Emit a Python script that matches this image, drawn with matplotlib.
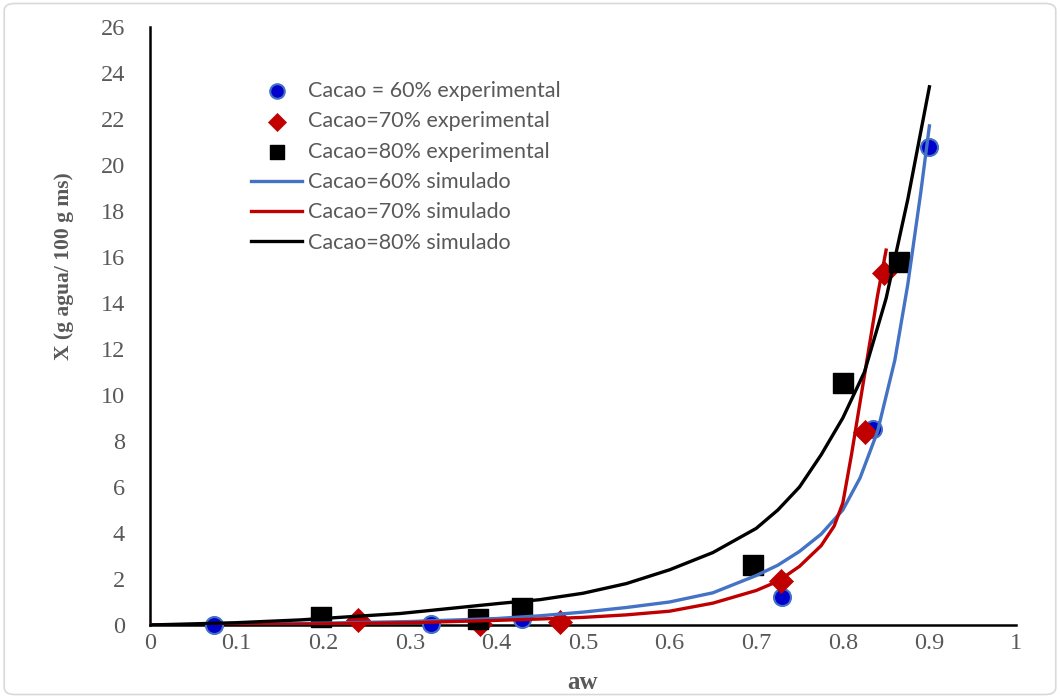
import matplotlib
matplotlib.use("Agg")
import matplotlib.pyplot as plt
from matplotlib.patches import FancyBboxPatch

# datos experimentales (aw, X)
aw_60 = [0.074, 0.325, 0.43, 0.73, 0.835, 0.90]
x_60 = [0.0, 0.05, 0.25, 1.2, 8.5, 20.8]
aw_70 = [0.24, 0.381, 0.474, 0.729, 0.826, 0.847]
x_70 = [0.2, 0.03, 0.12, 1.9, 8.4, 15.3]
aw_80 = [0.197, 0.379, 0.43, 0.696, 0.80, 0.865]
x_80 = [0.33, 0.25, 0.74, 2.6, 10.5, 15.8]

# curvas simuladas
aw_s60 = [0, 0.1, 0.2, 0.3, 0.4, 0.45, 0.5, 0.55, 0.6, 0.65, 0.7, 0.725, 0.75, 0.775,
          0.8, 0.82, 0.84, 0.86, 0.875, 0.89, 0.9]
x_s60 = [0, 0.03, 0.08, 0.15, 0.28, 0.4, 0.56, 0.76, 1.0, 1.4, 2.15, 2.6, 3.2, 3.95,
         5.0, 6.4, 8.4, 11.5, 14.8, 18.8, 21.7]
aw_s70 = [0, 0.1, 0.2, 0.3, 0.4, 0.45, 0.5, 0.55, 0.6, 0.65, 0.7, 0.725, 0.75, 0.775,
          0.79, 0.80, 0.81, 0.82, 0.83, 0.84, 0.85]
x_s70 = [0, 0.0, 0.05, 0.1, 0.2, 0.26, 0.33, 0.44, 0.6, 0.95, 1.5, 1.9, 2.55, 3.45,
         4.3, 5.3, 7.4, 9.7, 12.0, 14.3, 16.3]
aw_s80 = [0, 0.1, 0.173, 0.289, 0.404, 0.45, 0.5, 0.55, 0.6, 0.65, 0.7, 0.725, 0.75,
          0.775, 0.8, 0.825, 0.85, 0.875, 0.9]
x_s80 = [0, 0.1, 0.22, 0.5, 0.94, 1.1, 1.38, 1.8, 2.4, 3.15, 4.2, 5.0, 6.0,
         7.4, 9.0, 11.0, 14.2, 18.5, 23.4]

gris = "#595959"
serif = ["Liberation Serif", "DejaVu Serif"]

fig = plt.figure(figsize=(10.6, 6.98), dpi=100)
ax = fig.add_axes([0.1415, 0.1046, 0.817, 0.8567])

# marco del grafico
fig.patches.append(FancyBboxPatch((0.004, 0.005), 0.992, 0.99, boxstyle="round,pad=0,rounding_size=0.01",
                                  transform=fig.transFigure, fill=False, edgecolor="#D9D9D9", linewidth=1.2))

ax.scatter(aw_60, x_60, s=150, marker="o", color="#0000CC", edgecolors="#4472C4", linewidths=1.5,
           label="Cacao = 60% experimental", zorder=3, clip_on=False)
ax.scatter(aw_70, x_70, s=150, marker="D", color="#C00000", edgecolors="#C00000", linewidths=0.5,
           label="Cacao=70% experimental", zorder=3, clip_on=False)
ax.scatter(aw_80, x_80, s=210, marker="s", color="black", label="Cacao=80% experimental",
           zorder=3, clip_on=False)
ax.plot(aw_s60, x_s60, color="#4472C4", lw=2.4, label="Cacao=60% simulado", zorder=4)
ax.plot(aw_s70, x_s70, color="#C00000", lw=2.4, label="Cacao=70% simulado", zorder=4)
ax.plot(aw_s80, x_s80, color="black", lw=2.4, label="Cacao=80% simulado", zorder=4)

ax.set_xlim(0, 1)
ax.set_ylim(0, 26)
ax.set_xticks([0, 0.1, 0.2, 0.3, 0.4, 0.5, 0.6, 0.7, 0.8, 0.9, 1])
ax.set_xticklabels(["0", "0.1", "0.2", "0.3", "0.4", "0.5", "0.6", "0.7", "0.8", "0.9", "1"])
ax.set_yticks(range(0, 27, 2))
ax.tick_params(length=0, labelsize=17.5, labelcolor=gris)
ax.tick_params(axis="y", pad=18)
ax.tick_params(axis="x", pad=6)
for t in ax.get_xticklabels() + ax.get_yticklabels():
    t.set_family(serif)

for s in ["top", "right"]:
    ax.spines[s].set_visible(False)
ax.spines["left"].set_linewidth(1.8)
ax.spines["bottom"].set_linewidth(1.8)

ax.set_xlabel("aw", fontsize=18, fontweight="bold", color=gris, family=serif)
ax.xaxis.set_label_coords(0.5, -0.077)
ax.set_ylabel("X (g agua/ 100 g ms)", fontsize=15.5, fontweight="bold", color=gris, family=serif)
ax.yaxis.set_label_coords(-0.088, 0.6)

leg = ax.legend(loc="upper left", bbox_to_anchor=(0.094, 0.942), frameon=False,
                labelcolor=gris, handlelength=2.4, handletextpad=0.25, labelspacing=0.48,
                prop={"family": ["Lato", "DejaVu Sans"], "size": 15.5})
leg.legend_handles[0].set_sizes([110])
leg.legend_handles[1].set_sizes([85])
leg.legend_handles[2].set_sizes([110])

fig.savefig("out.png", dpi=100)
